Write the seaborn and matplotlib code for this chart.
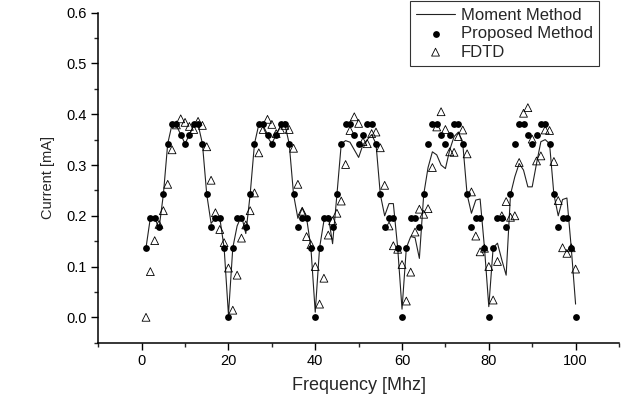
import numpy as np
import pandas as pd
import matplotlib
matplotlib.use("Agg")
import matplotlib.pyplot as plt
import seaborn as sns
from matplotlib.ticker import MultipleLocator, FormatStrFormatter

# Frequency samples (MHz)
freq = np.arange(1, 101)

# Moment Method (line)
moment = [
    0.137, 0.196, 0.196, 0.175, 0.242, 0.342, 0.380, 0.378, 0.360, 0.342,
    0.360, 0.378, 0.380, 0.342, 0.242, 0.185, 0.196, 0.196, 0.137, 0.005,
    0.137, 0.180, 0.200, 0.165, 0.242, 0.342, 0.380, 0.375, 0.355, 0.342,
    0.360, 0.375, 0.380, 0.342, 0.242, 0.195, 0.215, 0.196, 0.137, 0.010,
    0.137, 0.190, 0.200, 0.145, 0.242, 0.342, 0.348, 0.345, 0.330, 0.315,
    0.340, 0.350, 0.360, 0.342, 0.242, 0.200, 0.224, 0.224, 0.137, 0.016,
    0.137, 0.159, 0.157, 0.116, 0.242, 0.295, 0.326, 0.320, 0.300, 0.293,
    0.330, 0.356, 0.365, 0.342, 0.242, 0.205, 0.231, 0.233, 0.137, 0.021,
    0.137, 0.146, 0.113, 0.083, 0.242, 0.277, 0.303, 0.290, 0.257, 0.257,
    0.303, 0.346, 0.350, 0.342, 0.242, 0.200, 0.232, 0.235, 0.137, 0.026,
]

# Proposed Method (filled circles)
proposed = [
    0.137, 0.196, 0.196, 0.178, 0.242, 0.342, 0.380, 0.380, 0.360, 0.342,
    0.360, 0.380, 0.380, 0.342, 0.242, 0.178, 0.196, 0.196, 0.137, 0.000,
    0.137, 0.196, 0.196, 0.178, 0.242, 0.342, 0.380, 0.380, 0.360, 0.342,
    0.360, 0.380, 0.380, 0.342, 0.242, 0.178, 0.196, 0.196, 0.137, 0.000,
    0.137, 0.196, 0.196, 0.178, 0.242, 0.342, 0.380, 0.380, 0.360, 0.342,
    0.360, 0.380, 0.380, 0.342, 0.242, 0.178, 0.196, 0.196, 0.137, 0.000,
    0.137, 0.196, 0.196, 0.178, 0.242, 0.342, 0.380, 0.380, 0.360, 0.342,
    0.360, 0.380, 0.380, 0.342, 0.242, 0.178, 0.196, 0.196, 0.137, 0.000,
    0.137, 0.196, 0.196, 0.178, 0.242, 0.342, 0.380, 0.380, 0.360, 0.342,
    0.360, 0.380, 0.380, 0.342, 0.242, 0.178, 0.196, 0.196, 0.137, 0.000,
]

# FDTD (open triangles)
fdtd = [
    0.000, 0.090, 0.151, 0.183, 0.210, 0.262, 0.330, 0.379, 0.391, 0.384,
    0.376, 0.370, 0.386, 0.378, 0.336, 0.270, 0.206, 0.173, 0.147, 0.097,
    0.014, 0.083, 0.156, 0.182, 0.210, 0.245, 0.324, 0.370, 0.390, 0.380,
    0.362, 0.370, 0.378, 0.370, 0.333, 0.262, 0.209, 0.159, 0.143, 0.100,
    0.026, 0.077, 0.162, 0.190, 0.205, 0.229, 0.301, 0.368, 0.395, 0.382,
    0.346, 0.342, 0.362, 0.365, 0.334, 0.260, 0.180, 0.141, 0.134, 0.104,
    0.032, 0.089, 0.168, 0.213, 0.203, 0.214, 0.295, 0.375, 0.405, 0.370,
    0.326, 0.325, 0.356, 0.369, 0.322, 0.247, 0.160, 0.129, 0.136, 0.100,
    0.034, 0.110, 0.200, 0.228, 0.197, 0.200, 0.305, 0.402, 0.413, 0.351,
    0.308, 0.318, 0.369, 0.368, 0.307, 0.230, 0.137, 0.126, 0.137, 0.095,
]

df = pd.DataFrame({"freq": freq, "moment": moment, "proposed": proposed, "fdtd": fdtd})

sns.set_style("ticks")
plt.rcParams["font.family"] = ["Liberation Sans", "DejaVu Sans"]

fig = plt.figure(figsize=(6.3, 3.98), dpi=100)
ax = fig.add_axes([0.156, 0.139, 0.8265, 0.829])

sns.lineplot(data=df, x="freq", y="moment", ax=ax, color="#222222",
             linewidth=0.8, label="Moment Method")
sns.scatterplot(data=df, x="freq", y="proposed", ax=ax, color="black",
                marker="o", s=24, linewidth=0, label="Proposed Method", zorder=3)
sns.scatterplot(data=df, x="freq", y="fdtd", ax=ax, color="black",
                marker="^", s=32, facecolor="none", edgecolor="black",
                linewidth=0.6, label="FDTD", zorder=4)

ax.set_xlim(-10, 110)
ax.set_ylim(-0.05, 0.6)
ax.xaxis.set_minor_locator(MultipleLocator(10))
ax.set_xticks([0, 20, 40, 60, 80, 100])
ax.yaxis.set_major_locator(MultipleLocator(0.1))
ax.yaxis.set_minor_locator(MultipleLocator(0.05))
ax.yaxis.set_major_formatter(FormatStrFormatter("%.1f"))

ax.tick_params(which="major", direction="out", length=5, width=1, labelsize=10.5, colors="black")
ax.tick_params(which="minor", direction="out", length=3, width=1)
for side in ["left", "bottom"]:
    ax.spines[side].set_linewidth(1.1)
    ax.spines[side].set_color("black")
sns.despine(ax=ax)

ax.set_xlabel("Frequency [Mhz]", fontsize=13, labelpad=6)
ax.set_ylabel("Current [mA]", fontsize=10.5, labelpad=8)

leg = ax.legend(loc="upper right", bbox_to_anchor=(0.962, 1.035), fontsize=12,
                frameon=True, fancybox=False, edgecolor="black",
                handlelength=2.3, handletextpad=0.35, borderpad=0.4,
                labelspacing=0.2, borderaxespad=0)
leg.get_frame().set_linewidth(0.8)

fig.savefig("out.png", dpi=100)
